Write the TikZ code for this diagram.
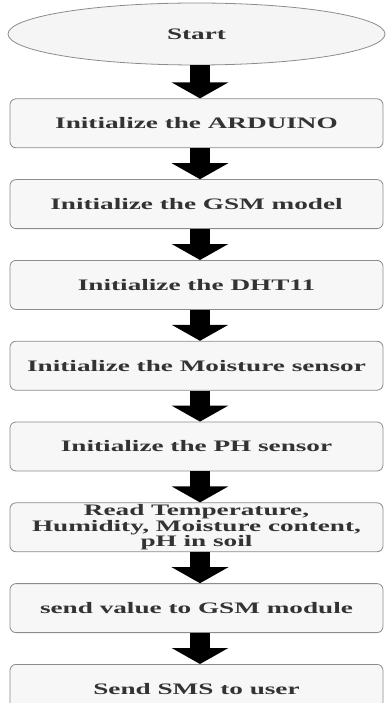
\documentclass[tikz,border=0pt]{standalone}
\usepackage{fontspec}
\newfontfamily\flowfont{Liberation Serif}[FakeStretch=1.7]
\usetikzlibrary{positioning, arrows.meta, shapes.geometric}

\begin{document}
\begin{tikzpicture}[x = 1pt, y = 1pt,
		terminal/.style={ellipse, draw = black!45, fill = black!4, line width = 0.8pt, inner sep = 0pt, minimum width = 377pt, minimum height = 62pt},
		process/.style={rectangle, rounded corners = 6pt, draw = black!45, fill = black!3, line width = 0.8pt, inner sep = 0pt, minimum width = 373pt, minimum height = 49pt, align = center},
		arrow/.style={line width = 20pt, black, -{Triangle[width = 56pt, length = 16pt]}},
		every node/.style={text = black!80, font = \flowfont\bfseries\fontsize{16}{14.5}\selectfont}
	]
	\useasboundingbox (0, 0) rectangle (386, -703);
	
	\node[terminal] (start) at (196.5, -34) {Start};
	
	\node[process, below = 33pt of start] (arduino) {Initialize the ARDUINO};
	\node[process, below = 31pt of arduino] (gsm) {Initialize the GSM model};
	\node[process, below = 31pt of gsm] (dht) {Initialize the DHT11};
	\node[process, below = 31pt of dht] (moisture) {Initialize the Moisture sensor};
	\node[process, below = 31pt of moisture] (ph) {Initialize the PH sensor};
	\node[process, below = 31pt of ph] (read) {Read Temperature,\\Humidity, Moisture content,\\pH in soil};
	\node[process, below = 31pt of read] (send) {send value to GSM module};
	\node[process, below = 31pt of send] (sms) {Send SMS to user};
	
	\draw[arrow] ([xshift = 3.5pt]start.south) -- ([xshift = 3.5pt]arduino.north);
	\draw[arrow] ([xshift = 3.5pt]arduino.south) -- ([xshift = 3.5pt]gsm.north);
	\draw[arrow] ([xshift = 3.5pt]gsm.south) -- ([xshift = 3.5pt]dht.north);
	\draw[arrow] ([xshift = 3.5pt]dht.south) -- ([xshift = 3.5pt]moisture.north);
	\draw[arrow] ([xshift = 3.5pt]moisture.south) -- ([xshift = 3.5pt]ph.north);
	\draw[arrow] ([xshift = 3.5pt]ph.south) -- ([xshift = 3.5pt]read.north);
	\draw[arrow] ([xshift = 3.5pt]read.south) -- ([xshift = 3.5pt]send.north);
	\draw[arrow] ([xshift = 3.5pt]send.south) -- ([xshift = 3.5pt]sms.north);
	
\end{tikzpicture}
\end{document}
